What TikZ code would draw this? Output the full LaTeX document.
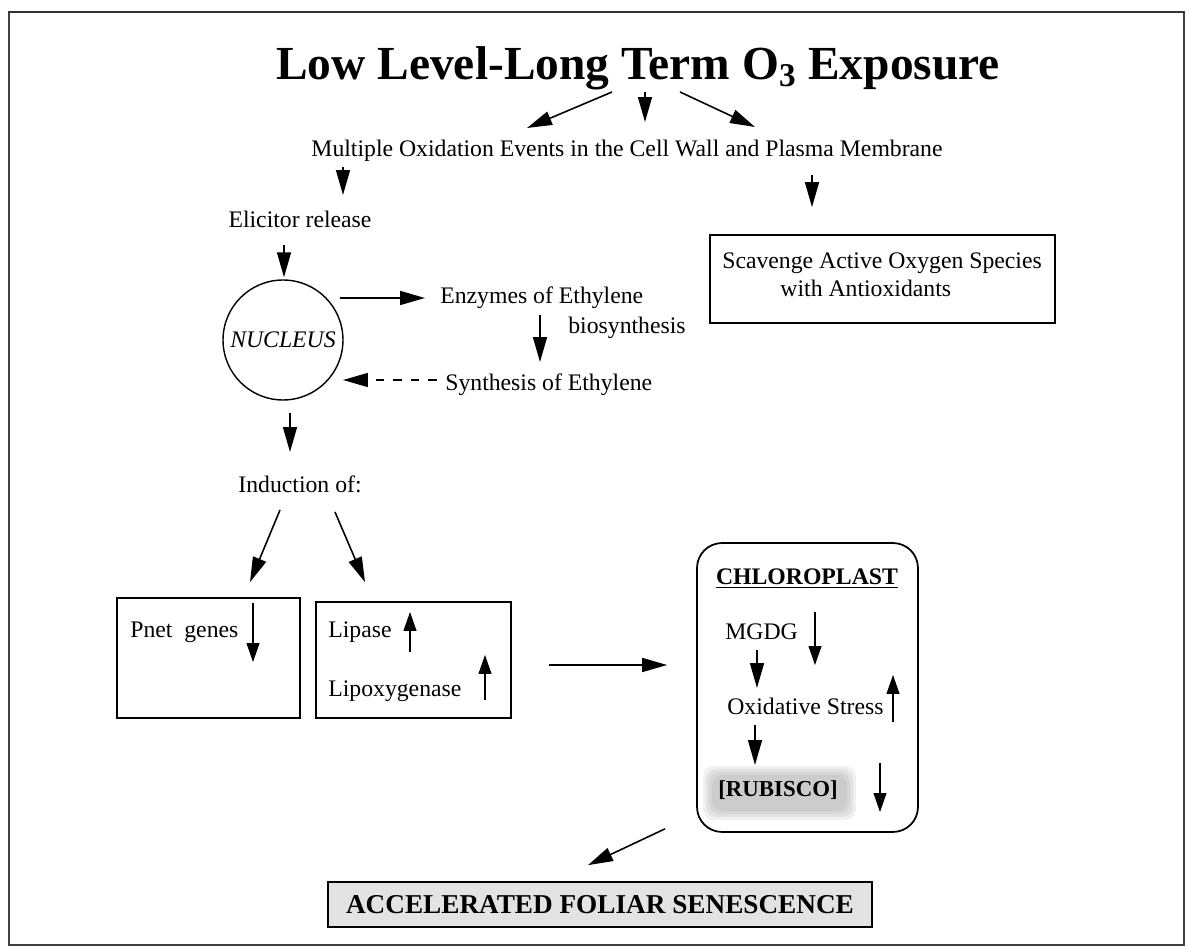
\documentclass[tikz,border=0pt]{standalone}
\usepackage{fontspec}
\setmainfont{Liberation Serif}
\usetikzlibrary{arrows.meta,calc}

\tikzset{
  txt/.style={inner sep=0pt, anchor=base, font=\fontsize{13.5}{16.5}\selectfont},
  arr/.style={-{Triangle[length=5mm,width=2.8mm]}, line width=0.9pt},
  updown/.style={-{Triangle[length=3.8mm,width=2.6mm]}, line width=0.6pt},
  box/.style={draw, line width=1pt, inner sep=0pt},
}

\begin{document}
\begin{tikzpicture}[x=0.02cm, y=-0.02cm]
    \useasboundingbox (0,0) rectangle (1188,949);
    \draw[line width=1.2pt, black!75] (9,12) rectangle (1184,945);
    \draw[line width=1.6pt, black!80] (9,12) -- (1184,12);

    % top of the scheme
    \node[txt, font=\fontsize{27}{30}\selectfont\bfseries] (title) at (638,80) {Low Level-Long Term O\textsubscript{3} Exposure};
    \node[txt] (oxid) at (627,157) {Multiple Oxidation Events in the Cell Wall and Plasma Membrane};
    \node[txt] (elicit) at (300,228) {Elicitor release};
    \node[box, minimum width=6.9cm, minimum height=1.76cm] (scav) at (882.5,279) {};
    \node[txt, anchor=base west, align=left] (scavtxt) at (722,297) {Scavenge Active Oxygen Species\\\hspace*{2.45em}with Antioxidants};

    % nucleus and ethylene loop
    \node[draw, circle, line width=0.8pt, minimum size=2.4cm, inner sep=0pt, font=\fontsize{13.5}{16.5}\selectfont\itshape] (nucleus) at (283,340) {NUCLEUS};
    \node[txt, anchor=base west] (enz) at (440,304) {Enzymes of Ethylene};
    \node[txt, anchor=base east] (bio) at (686,334) {biosynthesis};
    \node[txt, anchor=base west] (synth) at (445,391) {Synthesis of Ethylene};
    \node[txt] (ind) at (300,493) {Induction of:};

    % induced boxes
    \node[box, minimum width=3.66cm, minimum height=2.4cm] (pnetbox) at (208.5,658) {};
    \node[txt, anchor=base west] (pnet) at (130,638) {Pnet\ \ genes};
    \node[box, minimum width=3.9cm, minimum height=2.32cm] (lipbox) at (413.5,660) {};
    \node[txt, anchor=base west] (lipase) at (328,638) {Lipase};
    \node[txt, anchor=base west] (lipox) at (328,697) {Lipoxygenase};

    % chloroplast
    \node[box, rounded corners=0.5cm, minimum width=4.42cm, minimum height=5.78cm] (chloro) at (807.5,687.5) {};
    \node[txt, font=\fontsize{13.5}{16.5}\selectfont\bfseries] (chltitle) at (807,585) {\underline{CHLOROPLAST}};
    \node[txt, anchor=base west] (mgdg) at (725,640) {MGDG};
    \node[txt, anchor=base west] (oxst) at (727,715) {Oxidative Stress};
    \foreach \b in {0,3,6,9}
      \fill[gray, opacity=0.12, rounded corners=6pt] (703+\b,766+\b) rectangle (856-\b,820-\b);
    \node[txt, anchor=base west, font=\fontsize{13}{16}\selectfont\bfseries] (rubisco) at (718,797) {[RUBISCO]};

    \node[box, fill=gray!22, minimum width=10.88cm, minimum height=0.9cm, font=\fontsize{15.5}{18}\selectfont\bfseries] (senesc) at (600,904.5) {ACCELERATED FOLIAR SENESCENCE};

    % connectors
    \draw[arr] ($(title.base)+(-26,12)$) -- ($(oxid.base)+(-100,-29)$);
    \draw[arr] ($(title.base)+(7,12)$) -- ($(oxid.base)+(18,-35)$);
    \draw[arr] ($(title.base)+(42,12)$) -- ($(oxid.base)+(128,-30)$);
    \draw[arr] ($(oxid.base)+(-284,10)$) -- ($(elicit.base)+(43,-33)$);
    \draw[arr] ($(oxid.base)+(185,18)$) -- ($(scav.north)+(-70.5,-27)$);
    \draw[arr] ($(elicit.base)+(-16,17)$) -- ($(nucleus.north)+(1,-2)$);
    \draw[arr] ($(nucleus.center)+(57,-42)$) -- ($(enz.base west)+(-15,-6)$);
    \draw[arr] ($(enz.base west)+(100,11)$) -- ($(synth.base west)+(95,-29)$);
    \draw[arr, dashed, dash pattern=on 5pt off 5pt] ($(synth.base west)+(-8,-11)$) -- ($(nucleus.center)+(60,40)$);
    \draw[arr] ($(nucleus.south)+(7,12)$) -- ($(ind.base)+(-10,-41)$);
    \draw[arr] ($(ind.base)+(-20,17)$) -- ($(pnetbox.north)+(41.5,-15)$);
    \draw[arr] ($(ind.base)+(35,19)$) -- ($(lipbox.north)+(-48.5,-19)$);
    \draw[arr] ($(lipbox.east)+(37,5)$) -- ($(chloro.west)+(-29,-22.5)$);
    \draw[arr] ($(mgdg.base west)+(32,10)$) -- ($(oxst.base west)+(30,-27)$);
    \draw[arr] ($(oxst.base west)+(28,10)$) -- ($(rubisco.base west)+(37,-32)$);
    \draw[arr] ($(chloro.south)+(-142.5,-4)$) -- ($(senesc.north)+(-12,-16)$);

    % up and down markers
    \draw[updown] ($(pnet.base west)+(123,-35)$) -- ++(0,59);
    \draw[updown] ($(lipase.base west)+(82,14)$) -- ++(0,-40);
    \draw[updown] ($(lipox.base west)+(157,3)$) -- ++(0,-45);
    \draw[updown] ($(mgdg.base west)+(90,-28)$) -- ++(0,53);
    \draw[updown] ($(oxst.base west)+(166,7)$) -- ++(0,-47);
    \draw[updown] ($(rubisco.base west)+(162,-34)$) -- ++(0,49);
\end{tikzpicture}
\end{document}
